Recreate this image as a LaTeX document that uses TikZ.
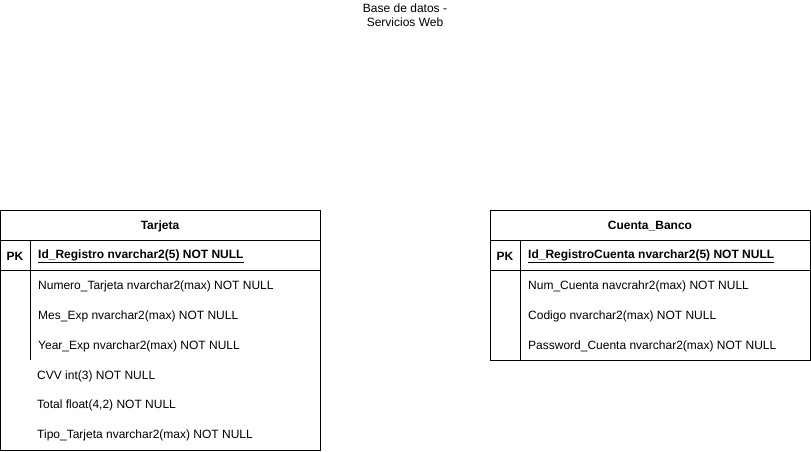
\documentclass[tikz,border=0pt]{standalone}
\usepackage{fontspec}
\setmainfont{Liberation Sans}
\begin{document}
\begin{tikzpicture}[x=1pt,y=-1pt,
  box/.style={draw=black,line width=1pt},
  sep/.style={draw=black,line width=1pt},
  fld/.style={anchor=west,inner sep=0pt,font=\fontsize{12}{14}\selectfont},
  hdr/.style={anchor=center,inner sep=0pt,font=\fontsize{12}{14}\selectfont\bfseries},
  ttl/.style={anchor=center,inner sep=0pt,align=center,font=\fontsize{12}{14}\selectfont}]
\useasboundingbox (0,0) rectangle (811,451);
% title
\node[ttl] (title) at (405,15.5) {Base de datos -\\Servicios Web};
% Tarjeta
\draw[box] (0.5,210.5) rectangle (320.5,450.5);
\draw[sep] (0.5,240.5) -- (320.5,240.5);
\draw[sep] (0.5,270.5) -- (320.5,270.5);
\draw[sep] (30.5,240.5) -- (30.5,360);
\node[hdr] (t) at (160,226) {Tarjeta};
\node[hdr] (tpk) at (15,256) {PK};
\node[fld,font=\fontsize{12}{14}\selectfont\bfseries] (tid) at (38,256) {\underline{Id\_Registro nvarchar2(5) NOT NULL}};
\node[fld] (t1) at (38,286) {Numero\_Tarjeta nvarchar2(max) NOT NULL};
\node[fld] (t2) at (38,316) {Mes\_Exp nvarchar2(max) NOT NULL};
\node[fld] (t3) at (38,346) {Year\_Exp nvarchar2(max) NOT NULL};
\node[fld] (t4) at (37,376) {CVV int(3) NOT NULL};
\node[fld] (t5) at (37,405) {Total float(4,2) NOT NULL};
\node[fld] (t6) at (37,435) {Tipo\_Tarjeta nvarchar2(max) NOT NULL};
% Cuenta_Banco
\draw[box] (490.5,210.5) rectangle (810.5,360.5);
\draw[sep] (490.5,240.5) -- (810.5,240.5);
\draw[sep] (490.5,270.5) -- (810.5,270.5);
\draw[sep] (520.5,240.5) -- (520.5,360.5);
\node[hdr] (c) at (650,226) {Cuenta\_Banco};
\node[hdr] (cpk) at (505,256) {PK};
\node[fld,font=\fontsize{12}{14}\selectfont\bfseries] (cid) at (528,256) {\underline{Id\_RegistroCuenta nvarchar2(5) NOT NULL}};
\node[fld] (c1) at (528,286) {Num\_Cuenta navcrahr2(max) NOT NULL};
\node[fld] (c2) at (528,316) {Codigo nvarchar2(max) NOT NULL};
\node[fld] (c3) at (528,346) {Password\_Cuenta nvarchar2(max) NOT NULL};
\end{tikzpicture}
\end{document}
